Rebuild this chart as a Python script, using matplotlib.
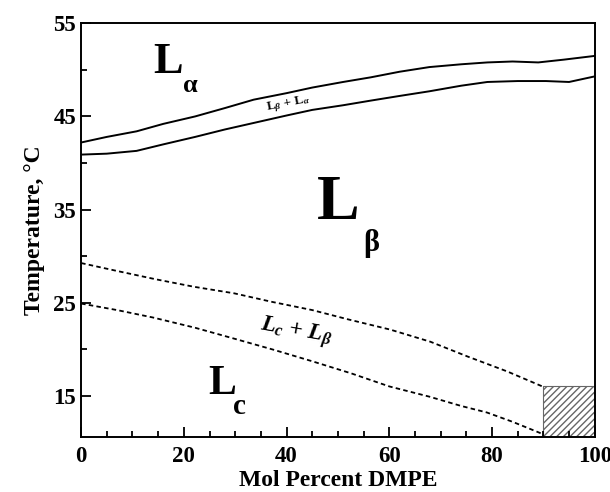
import matplotlib.pyplot as plt
from matplotlib.ticker import MultipleLocator

plt.rcParams['font.family'] = ['Liberation Serif', 'DejaVu Serif']
plt.rcParams['font.weight'] = 'bold'
plt.rcParams['mathtext.fontset'] = 'custom'
plt.rcParams['mathtext.rm'] = 'Liberation Serif:bold'
plt.rcParams['mathtext.it'] = 'Liberation Serif:italic:bold'
plt.rcParams['mathtext.bf'] = 'Liberation Serif:bold'

# phase boundaries
x_upper = [0, 5, 10.8, 16, 22.2, 28, 33.6, 40, 45, 51, 56.4, 62, 67.8, 74, 79.1, 84, 89, 94, 100]
t_upper = [42.2, 42.8, 43.4, 44.2, 45.0, 45.9, 46.8, 47.5, 48.1, 48.7, 49.2, 49.8, 50.3, 50.6, 50.8, 50.9, 50.8, 51.1, 51.5]

x_lower = [0, 5, 10.8, 16, 22.2, 28, 33.6, 40, 45, 51, 56.4, 62, 67.8, 74, 79.1, 85, 90.5, 95, 100]
t_lower = [40.9, 41.0, 41.3, 42.0, 42.8, 43.6, 44.3, 45.1, 45.7, 46.2, 46.7, 47.2, 47.7, 48.3, 48.7, 48.8, 48.8, 48.7, 49.3]

x_dash_up = [0, 7, 14.6, 22, 29.8, 37, 45, 52, 60.2, 68, 75.3, 83, 89.8]
t_dash_up = [29.25, 28.4, 27.5, 26.7, 26.0, 25.1, 24.2, 23.2, 22.1, 20.8, 19.2, 17.6, 16.0]

x_dash_lo = [0, 7, 14, 22.2, 30, 37.4, 45, 52.6, 60, 67.8, 74, 79, 84, 89.8]
t_dash_lo = [24.9, 24.2, 23.4, 22.3, 21.1, 19.95, 18.7, 17.4, 16.0, 14.9, 13.9, 13.2, 12.2, 10.9]

hatch_x = [90, 100]
hatch_top = 16.0

fig = plt.figure(figsize=(6.1, 4.92), dpi=100)
ax = fig.add_axes([0.133, 0.1124, 0.842, 0.8402])

ax.plot(x_upper, t_upper, color='black', lw=1.4)
ax.plot(x_lower, t_lower, color='black', lw=1.4)
ax.plot(x_dash_up, t_dash_up, color='black', lw=1.3, dashes=(2.5, 1.8))
ax.plot(x_dash_lo, t_dash_lo, color='black', lw=1.3, dashes=(2.5, 1.8))

ax.fill_between(hatch_x, 10.6, hatch_top, facecolor='white', edgecolor='#666666',
                hatch='/////', lw=0.8)

# region labels: big L with a dropped subscript
ax.text(17.0, 50.85, 'L', fontsize=32, ha='center', va='center')
ax.text(21.2, 48.3, '\u03b1', fontsize=19, ha='center', va='center')
ax.text(50.0, 35.6, 'L', fontsize=46, ha='center', va='center')
ax.text(56.4, 31.4, '\u03b2', fontsize=22, ha='center', va='center')
ax.text(27.4, 16.3, 'L', fontsize=30, ha='center', va='center')
ax.text(30.9, 13.8, 'c', fontsize=21, ha='center', va='center')

ax.text(40.3, 46.3, r'L$_{\beta}$ + L$_{\alpha}$', fontsize=9.5, ha='center', va='center',
        rotation=11)
ax.text(41.8, 21.8, r'$L_{c}$ + $L_{\beta}$', fontsize=17, ha='center', va='center',
        rotation=-10)

ax.set_xlim(0, 100)
ax.set_ylim(10.6, 55)
ax.xaxis.set_major_locator(MultipleLocator(20))
ax.xaxis.set_minor_locator(MultipleLocator(5))
ax.set_yticks([15, 25, 35, 45, 55])
ax.yaxis.set_minor_locator(MultipleLocator(5))
ax.tick_params(which='both', direction='in', labelsize=16.5, width=1.3)
ax.tick_params(which='major', length=7)
ax.tick_params(which='minor', length=4)
ax.tick_params(axis='x', pad=7)
for s in ax.spines.values():
    s.set_linewidth(1.4)

ax.set_xlabel('Mol Percent DMPE', fontsize=17, fontweight='bold', labelpad=2)
ax.set_ylabel('Temperature, \u00b0C', fontsize=17, fontweight='bold', labelpad=6)

fig.savefig('out.png', dpi=100)
